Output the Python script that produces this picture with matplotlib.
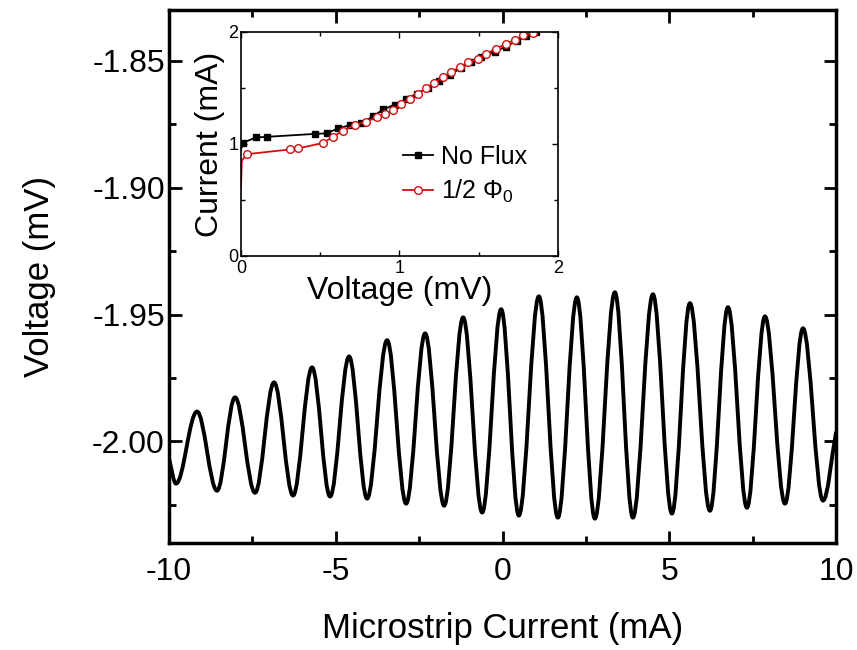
import matplotlib
matplotlib.use("Agg")
import matplotlib.pyplot as plt
from matplotlib.path import Path
from matplotlib.patches import PathPatch
from matplotlib.ticker import MultipleLocator, FormatStrFormatter

plt.rcParams['font.family'] = ['Liberation Sans', 'DejaVu Sans']
plt.rcParams['mathtext.fontset'] = 'custom'
plt.rcParams['mathtext.rm'] = 'Liberation Sans'
plt.rcParams['mathtext.it'] = 'Liberation Sans'
plt.rcParams['axes.unicode_minus'] = False

# --- Main trace: turning points of the voltage oscillation vs microstrip current ---
strip_current = [-10.0, -9.79, -9.16, -8.56, -8.02, -7.42, -6.85, -6.28, -5.71, -5.17,
                 -4.60, -4.06, -3.46, -2.89, -2.32, -1.75, -1.18, -0.61, -0.04, 0.49,
                 1.09, 1.66, 2.23, 2.77, 3.37, 3.91, 4.51, 5.08, 5.62, 6.22,
                 6.76, 7.33, 7.87, 8.47, 9.01, 9.61, 10.0]
strip_voltage = [-2.0067, -2.0166, -1.9882, -2.0194, -1.9826, -2.0202, -1.9767, -2.0213,
                 -1.9708, -2.0217, -1.9665, -2.0225, -1.9601, -2.0245, -1.9574, -2.0253,
                 -1.9511, -2.0280, -1.9479, -2.0292, -1.9428, -2.0300, -1.9432, -2.0304,
                 -1.9412, -2.0300, -1.9420, -2.0284, -1.9455, -2.0273, -1.9471, -2.0261,
                 -1.9507, -2.0245, -1.9554, -2.0233, -1.9965]

# --- Inset: I-V curves ---
noflux_v = [0.0, 0.015, 0.095, 0.166, 0.466, 0.54, 0.615, 0.687, 0.76, 0.834, 0.897,
            0.97, 1.04, 1.11, 1.18, 1.25, 1.32, 1.39, 1.45, 1.517, 1.60, 1.67, 1.74,
            1.80, 1.863]
noflux_i = [0.95, 1.013, 1.058, 1.064, 1.09, 1.095, 1.14, 1.168, 1.183, 1.248, 1.308,
            1.352, 1.40, 1.45, 1.50, 1.56, 1.62, 1.68, 1.73, 1.777, 1.822, 1.87, 1.92,
            1.96, 2.0]
half_v = [0.0, 0.005, 0.036, 0.309, 0.36, 0.519, 0.58, 0.645, 0.72, 0.79, 0.855, 0.908,
          0.96, 1.01, 1.065, 1.117, 1.17, 1.22, 1.275, 1.327, 1.38, 1.433, 1.496,
          1.548, 1.61, 1.674, 1.727, 1.78, 1.84]
half_i = [0.60, 0.85, 0.909, 0.951, 0.96, 1.01, 1.064, 1.12, 1.17, 1.20, 1.24, 1.266,
          1.30, 1.355, 1.405, 1.45, 1.50, 1.545, 1.60, 1.643, 1.688, 1.73, 1.762,
          1.807, 1.851, 1.896, 1.93, 1.97, 1.99]

fig = plt.figure(figsize=(8.57, 6.5), dpi=100)
ax = fig.add_axes([0.1972, 0.1646, 0.7783, 0.82])


def smooth_trace(xs, ys, k=0.36):
    """Cubic Bezier path through turning points with flat tangents at each extremum."""
    verts = [(xs[0], ys[0])]
    codes = [Path.MOVETO]
    n = len(xs)
    for j in range(n - 1):
        x0, y0, x1, y1 = xs[j], ys[j], xs[j + 1], ys[j + 1]
        dx = x1 - x0
        if j == 0:
            c1 = (x0 + dx / 3, y0 + (y1 - y0) / 3)
        else:
            c1 = (x0 + k * dx, y0)
        if j == n - 2:
            c2 = (x1 - dx / 3, y1 - (y1 - y0) / 3)
        else:
            c2 = (x1 - k * dx, y1)
        verts += [c1, c2, (x1, y1)]
        codes += [Path.CURVE4] * 3
    return Path(verts, codes)


trace = PathPatch(smooth_trace(strip_current, strip_voltage), facecolor='none',
                  edgecolor='black', lw=2.8, joinstyle='round', capstyle='round')
ax.add_patch(trace)

ax.set_xlim(-10, 10)
ax.set_ylim(-2.04, -1.83)
ax.xaxis.set_major_locator(MultipleLocator(5))
ax.xaxis.set_minor_locator(MultipleLocator(2.5))
ax.yaxis.set_major_locator(MultipleLocator(0.05))
ax.yaxis.set_minor_locator(MultipleLocator(0.025))
ax.yaxis.set_major_formatter(FormatStrFormatter('%.2f'))
ax.tick_params(which='both', direction='in', top=True, right=True, width=2, labelsize=23)
ax.tick_params(which='major', length=9)
ax.tick_params(which='minor', length=5)
ax.tick_params(axis='x', pad=10)
ax.tick_params(axis='y', pad=3)
for s in ax.spines.values():
    s.set_linewidth(2.5)
ax.set_xlabel('Microstrip Current (mA)', fontsize=25, labelpad=18)
ax.set_ylabel('Voltage (mV)', fontsize=25, labelpad=26)

# --- Inset axes ---
ins = fig.add_axes([0.2812, 0.6062, 0.3699, 0.3446])
ins.plot(noflux_v, noflux_i, color='black', lw=1.3, marker='s', ms=5,
         markevery=(1, 1), label='No Flux')
ins.plot(half_v, half_i, color='#d01010', lw=1.3, marker='o', ms=5.5, mfc='white',
         mec='#d01010', mew=1.0, markevery=(2, 1), label='1/2 Φ$_0$')
ins.set_xlim(0, 2)
ins.set_ylim(0, 2)
ins.xaxis.set_major_locator(MultipleLocator(1))
ins.xaxis.set_minor_locator(MultipleLocator(0.5))
ins.yaxis.set_major_locator(MultipleLocator(1))
ins.yaxis.set_minor_locator(MultipleLocator(0.5))
ins.tick_params(which='both', direction='in', top=True, right=True, width=1, labelsize=13)
ins.tick_params(which='major', length=4)
ins.tick_params(which='minor', length=3)
ins.tick_params(axis='x', pad=3)
ins.tick_params(axis='y', pad=2)
for s in ins.spines.values():
    s.set_linewidth(1.2)
ins.set_xlabel('Voltage (mV)', fontsize=23, labelpad=-1)
ins.set_ylabel('Current (mA)', fontsize=23, labelpad=2)
ins.legend(loc='upper left', bbox_to_anchor=(0.48, 0.54), frameon=False, fontsize=18,
           handlelength=1.2, handletextpad=0.3, labelspacing=0.35, borderaxespad=0)

fig.savefig('out.png', dpi=100)
